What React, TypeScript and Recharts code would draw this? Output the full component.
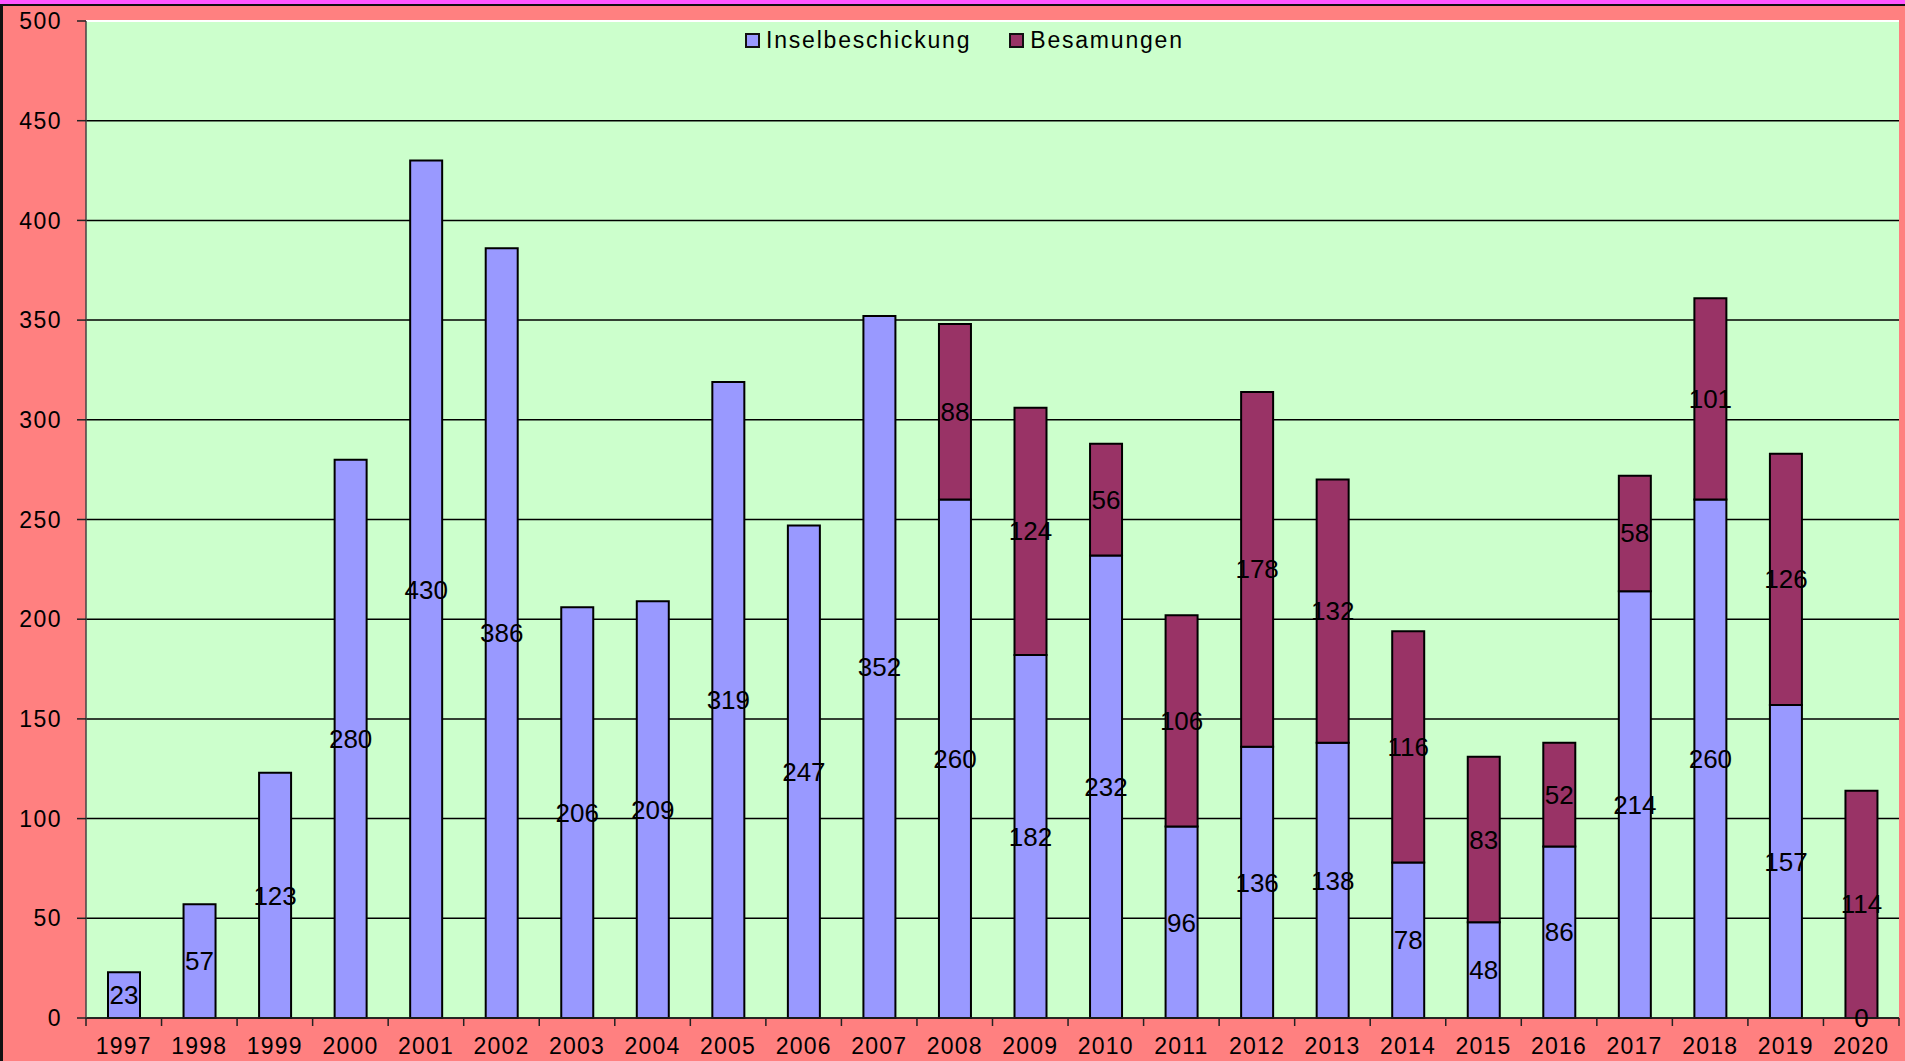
import React from "react";
import {
  BarChart,
  Bar,
  XAxis,
  YAxis,
  CartesianGrid,
  Legend,
  LabelList,
  ReferenceLine,
} from "recharts";

const years = [
  "1997", "1998", "1999", "2000", "2001", "2002", "2003", "2004",
  "2005", "2006", "2007", "2008", "2009", "2010", "2011", "2012",
  "2013", "2014", "2015", "2016", "2017", "2018", "2019", "2020",
];

const inselbeschickung = [
  23, 57, 123, 280, 430, 386, 206, 209, 319, 247, 352, 260,
  182, 232, 96, 136, 138, 78, 48, 86, 214, 260, 157, 0,
];

const besamungen: (number | null)[] = [
  null, null, null, null, null, null, null, null, null, null, null, 88,
  124, 56, 106, 178, 132, 116, 83, 52, 58, 101, 126, 114,
];

const seriesNames = ["Inselbeschickung", "Besamungen"];

const yTicks = [0, 50, 100, 150, 200, 250, 300, 350, 400, 450, 500];

const data = years.map((year, i) => ({
  year,
  insel: inselbeschickung[i],
  besam: besamungen[i],
}));

const W = 1905;
const H = 1061;
const PLOT_LEFT = 86;
const PLOT_RIGHT = 1899;
const BAND = (PLOT_RIGHT - PLOT_LEFT) / years.length;
const FONT = "'Liberation Sans', Arial, sans-serif";
const AXIS_FS = 23;
const LABEL_FS = 26;

function XTick(props: any) {
  const { x, y, payload, index } = props;
  const axisY = y - 20;
  const last = index === years.length - 1;
  return (
    <g>
      <line x1={x - BAND / 2} x2={x - BAND / 2} y1={axisY} y2={axisY + 8} stroke="#222" strokeWidth={1.5} />
      {last && (
        <line x1={x + BAND / 2} x2={x + BAND / 2} y1={axisY} y2={axisY + 8} stroke="#222" strokeWidth={1.5} />
      )}
      <text x={x} y={y} dy="0.71em" textAnchor="middle" fill="#000" fontSize={AXIS_FS} letterSpacing={1.2} fontFamily={FONT}>
        {payload.value}
      </text>
    </g>
  );
}

// label for the upper segment; also draws a zero lower value at the base
function BesamLabel(props: any) {
  const { x, y, width, height, value } = props;
  const cx = Number(x) + Number(width) / 2;
  const idx = Math.floor((cx - PLOT_LEFT) / BAND);
  const base = inselbeschickung[idx];
  return (
    <g>
      {value != null && (
        <text x={cx} y={Number(y) + Number(height) / 2} textAnchor="middle" dominantBaseline="central" fill="#000" fontSize={LABEL_FS} fontFamily={FONT}>
          {value}
        </text>
      )}
      {value != null && base === 0 && (
        <text x={cx} y={Number(y) + Number(height)} textAnchor="middle" dominantBaseline="central" fill="#000" fontSize={LABEL_FS} fontFamily={FONT}>
          {base}
        </text>
      )}
    </g>
  );
}

function LegendContent(props: any) {
  const items = [...(props.payload || [])].sort(
    (a: any, b: any) => seriesNames.indexOf(a.value) - seriesNames.indexOf(b.value)
  );
  return (
    <div style={{ display: "flex", alignItems: "center", fontFamily: FONT, fontSize: 23, letterSpacing: 1.8, color: "#000" }}>
      {items.map((p: any, i: number) => (
        <div key={i} style={{ display: "flex", alignItems: "center", marginRight: i === 0 ? 38 : 0 }}>
          <span
            style={{
              width: 11,
              height: 11,
              background: p.color,
              border: "2px solid #111",
              marginRight: 6,
              display: "inline-block",
            }}
          />
          <span>{p.value}</span>
        </div>
      ))}
    </div>
  );
}

export default function App() {
  return (
    <div style={{ position: "absolute", left: 0, top: 0, width: W, height: H, background: "#FF8080", overflow: "hidden" }}>
      <div style={{ position: "absolute", left: 0, top: 0, width: W, height: 4, background: "#FF55FF" }} />
      <div style={{ position: "absolute", left: 0, top: 4, width: W, height: 2, background: "#111" }} />
      <div style={{ position: "absolute", left: 0, top: 4, width: 3, height: H, background: "#111" }} />
      <div style={{ position: "absolute", left: 0, top: 0 }}>
        <BarChart
          width={W}
          height={H}
          data={data}
          margin={{ top: 21, right: W - PLOT_RIGHT, bottom: 0, left: 0 }}
          barSize={32}
          style={{ fontFamily: FONT }}
        >
          <CartesianGrid vertical={false} stroke="#000" strokeWidth={1.5} fill="#CCFFCC" fillOpacity={1} />
          <XAxis
            dataKey="year"
            height={43}
            tickLine={false}
            tickSize={8}
            tickMargin={12}
            axisLine={{ stroke: "#222", strokeWidth: 1.5 }}
            tick={<XTick />}
            interval={0}
          />
          <YAxis
            width={PLOT_LEFT}
            domain={[0, 500]}
            ticks={yTicks}
            interval={0}
            tickSize={9}
            tickMargin={15}
            axisLine={{ stroke: "#444", strokeWidth: 1.5 }}
            tickLine={{ stroke: "#222", strokeWidth: 1.5 }}
            tick={{ fill: "#000", fontSize: AXIS_FS, letterSpacing: 1.5 }}
          />
          <YAxis
            yAxisId="r"
            orientation="right"
            width={0}
            tick={false}
            tickLine={false}
            axisLine={{ stroke: "#fff", strokeWidth: 2 }}
          />
          <ReferenceLine y={500} stroke="#fff" strokeWidth={2} />
          <Legend
            layout="horizontal"
            verticalAlign="middle"
            align="center"
            content={<LegendContent />}
            wrapperStyle={{ top: 27, left: 745, width: "auto" }}
          />
          <Bar dataKey="insel" name="Inselbeschickung" stackId="a" fill="#9999FF" stroke="#000" strokeWidth={2} isAnimationActive={false}>
            <LabelList dataKey="insel" position="center" fill="#000" fontSize={LABEL_FS} />
          </Bar>
          <Bar dataKey="besam" name="Besamungen" stackId="a" fill="#993366" stroke="#000" strokeWidth={2} isAnimationActive={false}>
            <LabelList dataKey="besam" content={<BesamLabel />} />
          </Bar>
        </BarChart>
      </div>
    </div>
  );
}
